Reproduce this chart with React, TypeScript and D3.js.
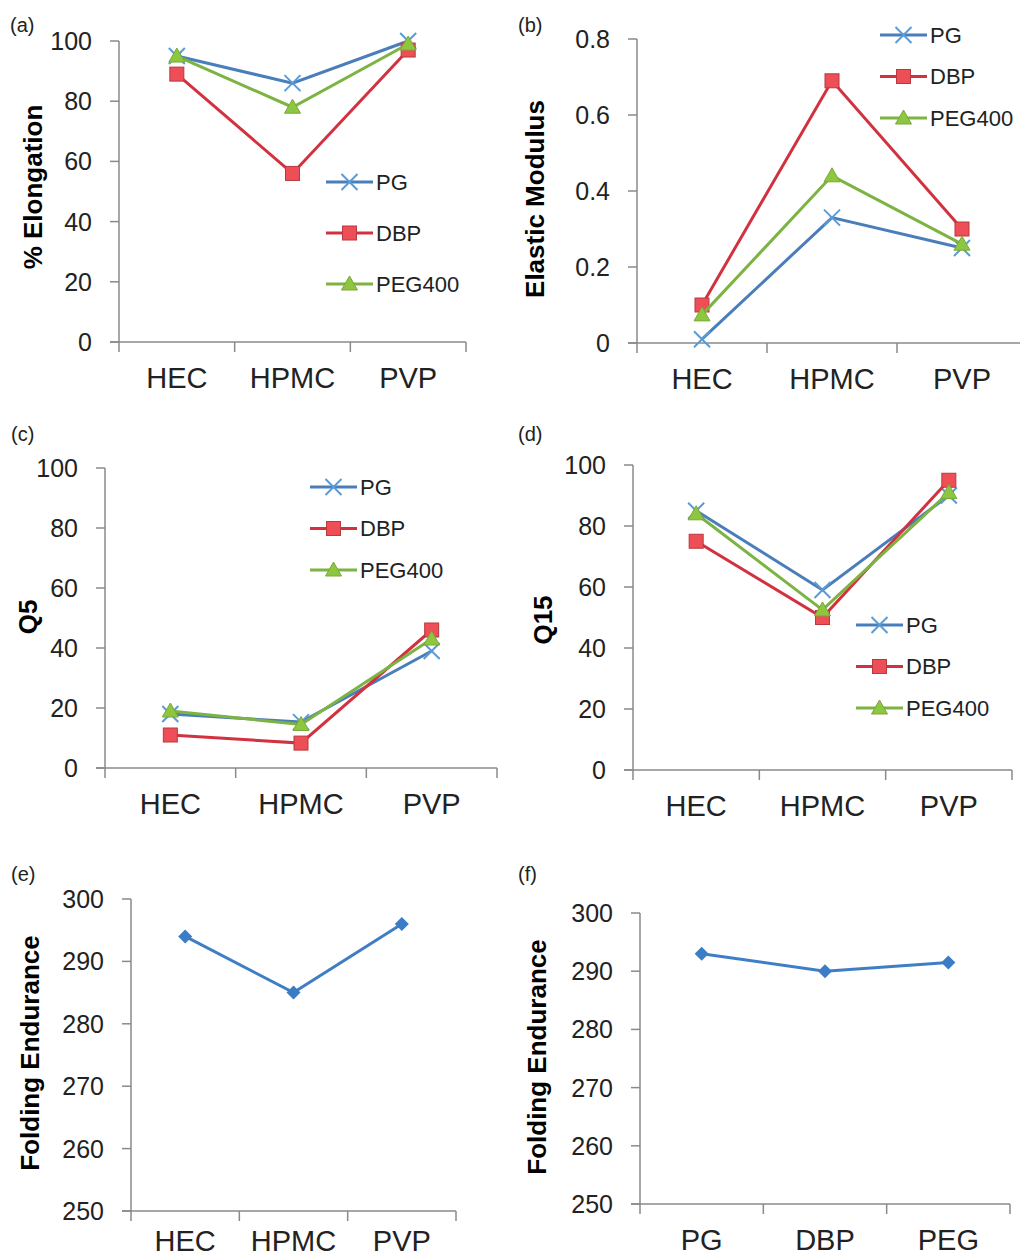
import React from 'react';
import * as d3 from 'd3';

// categories
const POLYMERS = ['HEC', 'HPMC', 'PVP'];
const PLASTICIZERS = ['PG', 'DBP', 'PEG'];
const SERIES_NAMES = ['PG', 'DBP', 'PEG400'];

// (a) % elongation
const ELONG_PG = [95, 86, 100];
const ELONG_DBP = [89, 56, 97];
const ELONG_PEG = [95, 78, 99];

// (b) elastic modulus
const MOD_PG = [0.01, 0.33, 0.25];
const MOD_DBP = [0.1, 0.69, 0.3];
const MOD_PEG = [0.074, 0.44, 0.26];

// (c) Q5
const Q5_PG = [18, 15.3, 39];
const Q5_DBP = [11, 8.3, 46];
const Q5_PEG = [19, 14.5, 43];

// (d) Q15
const Q15_PG = [85, 59, 90];
const Q15_DBP = [75, 50, 95];
const Q15_PEG = [84, 52.5, 91];

// (e) (f) folding endurance
const FOLD_POLYMER = [294, 285, 296];
const FOLD_PLASTICIZER = [293, 290, 291.5];

// tick values
const TICKS_100 = [0, 20, 40, 60, 80, 100];
const TICKS_MOD = [0, 0.2, 0.4, 0.6, 0.8];
const TICKS_FOLD = [250, 260, 270, 280, 290, 300];

const FONT = '"Liberation Sans", Arial, sans-serif';
const AXIS = '#8a8a8a';
const TXT = '#222';

const STYLES = [
  { line: '#4a7ebb', fill: '#5b9bd5', stroke: '#4a7ebb', shape: 'x' },
  { line: '#d2323f', fill: '#ee4e55', stroke: '#b83a40', shape: 'square' },
  { line: '#7cb342', fill: '#8dc63f', stroke: '#7aa83a', shape: 'triangle' },
];
const DIAMOND = { line: '#3f7ec4', fill: '#3a7cc6', stroke: '#3a7cc6', shape: 'diamond' };

const Marker = ({ x, y, st }) => {
  if (st.shape === 'x') {
    const s = 8;
    return (
      <path
        d={`M${x - s},${y - s}L${x + s},${y + s}M${x - s},${y + s}L${x + s},${y - s}`}
        stroke={st.fill}
        strokeWidth={2}
      />
    );
  }
  if (st.shape === 'square') {
    return <rect x={x - 7} y={y - 7} width={14} height={14} fill={st.fill} stroke={st.stroke} strokeWidth={1} />;
  }
  if (st.shape === 'triangle') {
    return (
      <path d={`M${x},${y - 8}L${x + 8},${y + 6}L${x - 8},${y + 6}Z`} fill={st.fill} stroke={st.stroke} strokeWidth={1} />
    );
  }
  return <path d={`M${x},${y - 7}L${x + 7},${y}L${x},${y + 7}L${x - 7},${y}Z`} fill={st.fill} />;
};

const Panel = ({ p }) => {
  const x = d3.scaleBand().domain(p.categories).range([p.x0, p.x1]).padding(0);
  const y = d3.scaleLinear().domain(p.domain).range([p.yBottom, p.yTop]);
  const cx = (c) => x(c) + x.bandwidth() / 2;
  const line = d3
    .line()
    .x((d, i) => cx(p.categories[i]))
    .y((d) => y(d));
  const bounds = [...p.categories.map((c) => x(c)), p.x1];

  return (
    <g>
      <text x={p.labelX} y={p.labelY} fontSize={20} fill={TXT}>{p.label}</text>
      {/* y axis */}
      <line x1={p.x0} x2={p.x0} y1={y(p.domain[1])} y2={p.yBottom} stroke={AXIS} strokeWidth={1.5} />
      {p.ticks.map((t) => (
        <g key={t}>
          <line x1={p.x0 - 9} x2={p.x0} y1={y(t)} y2={y(t)} stroke={AXIS} strokeWidth={1.5} />
          <text x={p.x0 - 27} y={y(t)} dy="0.36em" textAnchor="end" fontSize={25} fill={TXT}>
            {p.fmt ? p.fmt(t) : t}
          </text>
        </g>
      ))}
      {/* x axis */}
      <line x1={p.x0 - 9} x2={p.x1} y1={p.yBottom} y2={p.yBottom} stroke={AXIS} strokeWidth={1.5} />
      {bounds.map((b, i) => (
        <line key={i} x1={b} x2={b} y1={p.yBottom} y2={p.yBottom + 10} stroke={AXIS} strokeWidth={1.5} />
      ))}
      {p.categories.map((c) => (
        <text key={c} x={cx(c)} y={p.yBottom + (p.xLabelOffset || 46)} textAnchor="middle" fontSize={29} fill={TXT}>{c}</text>
      ))}
      <text
        transform={`translate(${p.titleX},${p.titleY}) rotate(-90)`}
        textAnchor="middle"
        dy="0.36em"
        fontSize={26}
        fontWeight="bold"
        fill="#000"
      >
        {p.title}
      </text>
      {/* series */}
      {p.series.map((s, si) => (
        <g key={si}>
          <path d={line(s.values)} fill="none" stroke={s.style.line} strokeWidth={3} />
          {s.values.map((v, i) => (
            <Marker key={i} x={cx(p.categories[i])} y={y(v)} st={s.style} />
          ))}
        </g>
      ))}
      {/* legend */}
      {p.legend &&
        p.series.map((s, si) => {
          const ly = p.legend.y + si * p.legend.step;
          return (
            <g key={si}>
              <line x1={p.legend.x} x2={p.legend.x + 47} y1={ly} y2={ly} stroke={s.style.line} strokeWidth={3} />
              <Marker x={p.legend.x + 23.5} y={ly} st={s.style} />
              <text x={p.legend.x + 50} y={ly} dy="0.36em" fontSize={22} fill={TXT}>{s.name}</text>
            </g>
          );
        })}
    </g>
  );
};

const three = (a, b, c) => [a, b, c].map((values, i) => ({ name: SERIES_NAMES[i], values, style: STYLES[i] }));

const PANELS = [
  {
    label: '(a)', labelX: 10, labelY: 32,
    title: '% Elongation', titleX: 33, titleY: 187,
    categories: POLYMERS, domain: [0, 100], ticks: TICKS_100,
    x0: 119, x1: 466, yTop: 41, yBottom: 342,
    series: three(ELONG_PG, ELONG_DBP, ELONG_PEG),
    legend: { x: 326, y: 182, step: 51 },
  },
  {
    label: '(b)', labelX: 518, labelY: 32,
    title: 'Elastic Modulus', titleX: 535, titleY: 199,
    categories: POLYMERS, domain: [0, 0.8], ticks: TICKS_MOD, fmt: (t) => (t === 0 ? '0' : d3.format('.1f')(t)),
    x0: 637, x1: 1027, yTop: 39, yBottom: 343,
    series: three(MOD_PG, MOD_DBP, MOD_PEG),
    legend: { x: 880, y: 35, step: 41.5 },
  },
  {
    label: '(c)', labelX: 11, labelY: 441,
    title: 'Q5', titleX: 28, titleY: 617,
    categories: POLYMERS, domain: [0, 100], ticks: TICKS_100,
    x0: 105, x1: 497, yTop: 468, yBottom: 768,
    series: three(Q5_PG, Q5_DBP, Q5_PEG),
    legend: { x: 310, y: 487, step: 41.5 },
  },
  {
    label: '(d)', labelX: 518, labelY: 441,
    title: 'Q15', titleX: 543, titleY: 620,
    categories: POLYMERS, domain: [0, 100], ticks: TICKS_100,
    x0: 633, x1: 1012, yTop: 465, yBottom: 770,
    series: three(Q15_PG, Q15_DBP, Q15_PEG),
    legend: { x: 856, y: 625, step: 41.5 },
  },
  {
    label: '(e)', labelX: 11, labelY: 881,
    title: 'Folding Endurance', titleX: 30, titleY: 1053,
    categories: POLYMERS, domain: [250, 300], ticks: TICKS_FOLD,
    x0: 131, x1: 456, yTop: 899, yBottom: 1211, xLabelOffset: 40,
    series: [{ name: 'fold', values: FOLD_POLYMER, style: DIAMOND }],
  },
  {
    label: '(f)', labelX: 518, labelY: 881,
    title: 'Folding Endurance', titleX: 537, titleY: 1057,
    categories: PLASTICIZERS, domain: [250, 300], ticks: TICKS_FOLD,
    x0: 640, x1: 1010, yTop: 913, yBottom: 1204,
    series: [{ name: 'fold', values: FOLD_PLASTICIZER, style: DIAMOND }],
  },
];

const App = () => (
  <svg
    width={1020}
    height={1258}
    style={{ position: 'absolute', left: 0, top: 0, background: '#fff' }}
    fontFamily={FONT}
  >
    {PANELS.map((p) => (
      <Panel key={p.label} p={p} />
    ))}
  </svg>
);

export default App;
